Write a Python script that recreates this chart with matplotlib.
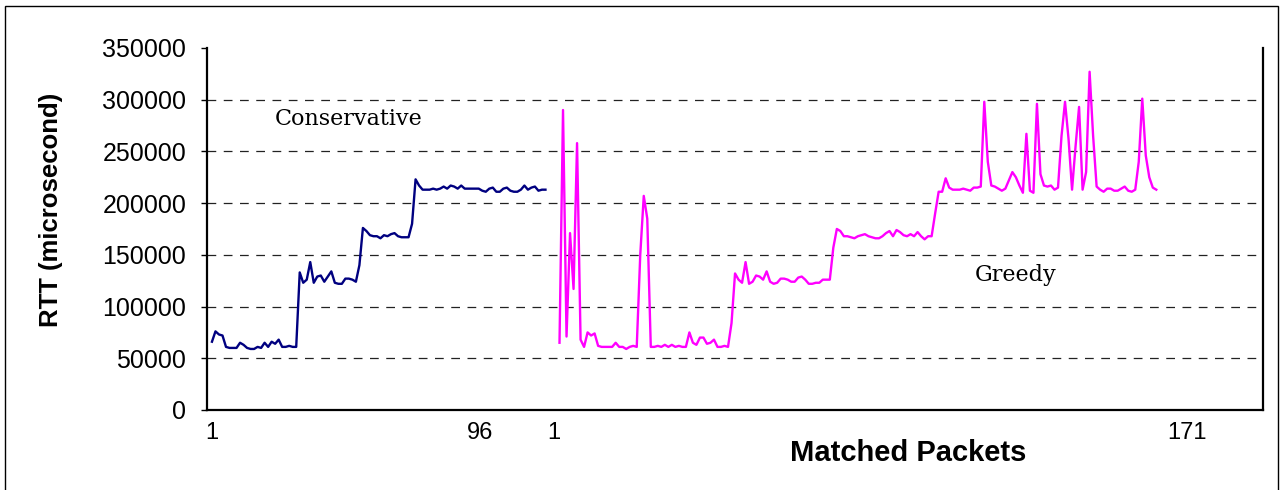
import numpy as np
import matplotlib
matplotlib.use('Agg')
import matplotlib.pyplot as plt

plt.rcParams['font.family'] = ['Liberation Sans', 'DejaVu Sans']

# RTT samples (microseconds)
conservative = [66000, 76000, 73000, 72000, 61000, 60000, 60000, 60000, 65000, 63000,
                60000, 59000, 59000, 61000, 60000, 65000, 61000, 66000, 64000, 68000,
                61000, 61000, 62000, 61000, 61000, 133000, 123000, 126000, 143000, 123000,
                129000, 130000, 124000, 129000, 134000, 123000, 122000, 122000, 127000, 127000,
                126000, 124000, 140000, 176000, 173000, 169000, 168000, 168000, 166000, 169000,
                168000, 170000, 171000, 168000, 167000, 167000, 167000, 180000, 223000, 217000,
                213000, 213000, 213000, 214000, 213000, 214000, 216000, 214000, 217000, 216000,
                214000, 217000, 214000, 214000, 214000, 214000, 214000, 212000, 211000, 214000,
                215000, 211000, 211000, 214000, 215000, 212000, 211000, 211000, 213000, 217000,
                213000, 215000, 216000, 212000, 213000, 213000]

greedy = [65000, 290000, 71000, 171000, 117000, 258000, 68000, 61000, 75000, 72000,
          74000, 62000, 61000, 61000, 61000, 61000, 65000, 61000, 61000, 59000,
          61000, 62000, 61000, 150000, 207000, 185000, 61000, 61000, 62000, 61000,
          63000, 61000, 63000, 61000, 62000, 61000, 61000, 75000, 65000, 63000,
          70000, 70000, 64000, 65000, 68000, 61000, 61000, 62000, 61000, 84000,
          132000, 126000, 123000, 143000, 122000, 124000, 130000, 129000, 126000, 134000,
          124000, 122000, 123000, 127000, 127000, 126000, 124000, 124000, 128000, 129000,
          126000, 122000, 122000, 123000, 123000, 126000, 126000, 126000, 157000, 175000,
          173000, 168000, 168000, 167000, 166000, 168000, 169000, 170000, 168000, 167000,
          166000, 166000, 168000, 171000, 173000, 168000, 174000, 172000, 169000, 168000,
          170000, 168000, 172000, 168000, 165000, 168000, 168000, 190000, 211000, 211000,
          224000, 215000, 213000, 213000, 213000, 214000, 213000, 212000, 215000, 215000,
          216000, 298000, 240000, 217000, 216000, 214000, 212000, 214000, 222000, 230000,
          225000, 217000, 210000, 267000, 212000, 210000, 296000, 228000, 217000, 216000,
          217000, 213000, 215000, 265000, 298000, 262000, 213000, 255000, 293000, 213000,
          230000, 327000, 265000, 216000, 213000, 211000, 214000, 214000, 212000, 212000,
          214000, 216000, 212000, 211000, 213000, 240000, 301000, 246000, 225000, 215000,
          213000]

gap = 3  # empty categories between the two runs
tick_pos = [0, 76.5, 97.4, 277.8]
tick_labels = ['1', '96', '1', '171']
yticks = list(range(0, 350001, 50000))

cons_x = np.arange(len(conservative))
greedy_x = np.arange(len(greedy)) + len(conservative) + gap

fig = plt.figure(figsize=(12.82, 4.9), dpi=100)
ax = fig.add_axes([0.1615, 0.1633, 0.8237, 0.7388])

for y in yticks[1:-1]:
    ax.axhline(y, color='#222222', lw=0.9, ls=(0, (7, 6)), zorder=1)

ax.plot(cons_x, conservative, color='#000080', lw=1.7, zorder=3)
ax.plot(greedy_x, greedy, color='#ff00ff', lw=1.7, zorder=3)

ax.set_xlim(-1.4, 299.4)
ax.set_ylim(0, 350000)
ax.set_yticks(yticks)
ax.set_yticklabels([str(v) for v in yticks])
ax.set_xticks(tick_pos)
ax.set_xticklabels(tick_labels)
ax.tick_params(axis='y', direction='out', length=4, width=1, pad=11, labelsize=18)
ax.tick_params(axis='x', length=0, pad=9, labelsize=17)

ax.spines['top'].set_visible(False)
for s in ['left', 'bottom', 'right']:
    ax.spines[s].set_linewidth(1.6)
    ax.spines[s].set_color('black')

ax.text(0.0644, 0.804, 'Conservative', transform=ax.transAxes, fontsize=16,
        family='DejaVu Serif', va='center', ha='left')
ax.text(0.727, 0.373, 'Greedy', transform=ax.transAxes, fontsize=16,
        family='DejaVu Serif', va='center', ha='left')

fig.text(51 / 1282, 0.571, 'RTT (microsecond)', rotation=90, ha='center', va='center',
         fontsize=18.5, fontweight='bold')
fig.text(908 / 1282, 0.0755, 'Matched Packets', ha='center', va='center',
         fontsize=21, fontweight='bold')

fig.add_artist(plt.Rectangle((5 / 1282, -0.02), 1273 / 1282, 0.004 + 482 / 490 + 0.02,
                             transform=fig.transFigure, fill=False, lw=1, color='black'))

fig.savefig('out.png', dpi=100)
